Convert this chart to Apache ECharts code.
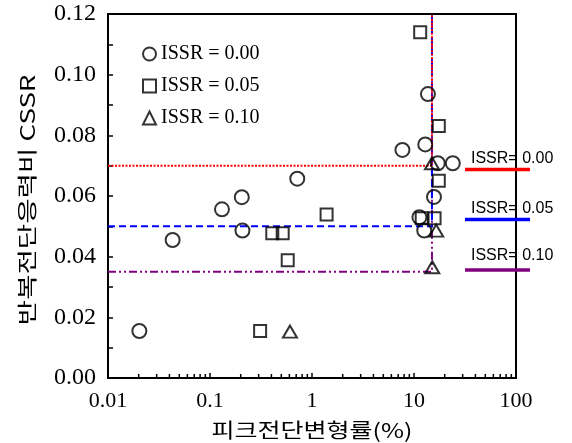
<!DOCTYPE html>
<html>
<head>
<meta charset="utf-8">
<script src="https://cdn.jsdelivr.net/npm/echarts@6/dist/echarts.min.js"></script>
<style>
    html, body { margin: 0; padding: 0; background: #fff; }
    #chart { width: 572px; height: 443px; }
</style>
</head>
<body>
<div id="chart"></div>
<script>
// 데이터
var seriesNames = ['ISSR = 0.00', 'ISSR = 0.05', 'ISSR = 0.10'];

var issr000X = [0.0203, 0.043, 0.131, 0.205, 0.208, 0.717, 7.7, 13.7, 12.9, 17.1, 24.0, 15.7, 11.3, 12.6];
var issr000Y = [0.0155, 0.0455, 0.0556, 0.0596, 0.0486, 0.0657, 0.0752, 0.0936, 0.077, 0.0708, 0.0708, 0.0597, 0.053, 0.0486];

var issr005X = [0.31, 0.408, 0.516, 0.578, 1.39, 11.9, 15.9, 17.5, 17.5, 11.5];
var issr005Y = [0.0155, 0.0477, 0.0477, 0.0388, 0.0539, 0.0527, 0.0527, 0.065, 0.0831, 0.114];

var issr010X = [0.608, 15.0, 16.5, 15.1];
var issr010Y = [0.0153, 0.0708, 0.0486, 0.0365];

// 기준선 (CSSR 한계값, 피크전단변형률 15%)
var limitStrain = 15;
var limitCssr = [0.07, 0.05, 0.035];

var xTickLabels = ['0.01', '0.1', '1', '10', '100'];
var yTickLabels = ['0.00', '0.02', '0.04', '0.06', '0.08', '0.10', '0.12'];

function pairs(xs, ys) {
    var out = [];
    for (var i = 0; i < xs.length; i++) {
        out.push([xs[i], ys[i]]);
    }
    return out;
}

// x축 보조눈금 (2~9 배수)
var minorTicks = [];
for (var d = -2; d < 2; d++) {
    for (var m = 2; m <= 9; m++) {
        minorTicks.push([m * Math.pow(10, d), 0]);
    }
}

var chart = echarts.init(document.getElementById('chart'));

var markerStyle = {
    color: 'rgba(0,0,0,0)',
    borderColor: '#000',
    borderWidth: 2
};

function limitLine(value, color, type) {
    return {
        type: 'line',
        data: [[0.01, value], [limitStrain, value], [limitStrain, 0.12]],
        symbol: 'none',
        silent: true,
        z: 1,
        lineStyle: { color: color, width: 2, type: type }
    };
}

var option = {
    animation: false,
    grid: {
        left: 108,
        top: 14,
        right: 56,
        bottom: 65,
        show: true,
        borderColor: '#000',
        borderWidth: 2
    },
    legend: {
        data: seriesNames,
        orient: 'vertical',
        left: 137,
        top: 39,
        itemWidth: 13,
        itemHeight: 13,
        itemGap: 12,
        textStyle: {
            fontFamily: 'Liberation Serif',
            fontSize: 20,
            color: '#000'
        },
        itemStyle: {
            color: 'rgba(0,0,0,0)',
            borderColor: '#000',
            borderWidth: 2
        }
    },
    xAxis: {
        type: 'log',
        logBase: 10,
        min: 0.01,
        max: 100,
        axisLine: { show: true, lineStyle: { color: '#000', width: 2 } },
        axisTick: { show: true, inside: true, length: 5, lineStyle: { color: '#000', width: 1.5 } },
        splitLine: { show: false },
        axisLabel: {
            color: '#000',
            fontFamily: 'Liberation Serif',
            fontSize: 22,
            margin: 12,
            formatter: function (v) {
                var k = Math.round(Math.log(v) / Math.LN10) + 2;
                return xTickLabels[k] || '';
            }
        }
    },
    yAxis: {
        type: 'value',
        min: 0,
        max: 0.12,
        interval: 0.02,
        axisLine: { show: true, lineStyle: { color: '#000', width: 2 } },
        axisTick: { show: true, inside: true, length: 5, lineStyle: { color: '#000', width: 1.5 } },
        minorTick: { show: true, splitNumber: 2, length: 5, lineStyle: { color: '#000', width: 1.5 } },
        splitLine: { show: false },
        axisLabel: {
            color: '#000',
            fontFamily: 'Liberation Serif',
            fontSize: 24,
            margin: 12,
            formatter: function (v) {
                return yTickLabels[Math.round(v / 0.02)];
            }
        }
    },
    graphic: [
        {
            type: 'text',
            x: 27,
            y: 200,
            rotation: Math.PI / 2,
            scaleX: 1.38,
            style: {
                text: '반복전단응력비 CSSR',
                font: '20px "Noto Sans CJK KR"',
                fill: '#000',
                textAlign: 'center',
                textVerticalAlign: 'middle'
            }
        },
        {
            type: 'text',
            x: 312,
            y: 430,
            scaleX: 1.25,
            style: {
                text: '피크전단변형률(%)',
                font: '20px "Noto Sans CJK KR"',
                fill: '#000',
                textAlign: 'center',
                textVerticalAlign: 'middle'
            }
        },
        { type: 'line', shape: { x1: 465, y1: 169.5, x2: 530, y2: 169.5 }, style: { stroke: '#ff0000', lineWidth: 3.5 } },
        { type: 'line', shape: { x1: 465, y1: 219.5, x2: 530, y2: 219.5 }, style: { stroke: '#0000ff', lineWidth: 3.5 } },
        { type: 'line', shape: { x1: 465, y1: 270, x2: 530, y2: 270 }, style: { stroke: '#800080', lineWidth: 3.5 } },
        { type: 'text', x: 471, y: 158.5, style: { text: 'ISSR= 0.00', font: '16px "Liberation Sans"', fill: '#000', textVerticalAlign: 'middle' } },
        { type: 'text', x: 471, y: 208.5, style: { text: 'ISSR= 0.05', font: '16px "Liberation Sans"', fill: '#000', textVerticalAlign: 'middle' } },
        { type: 'text', x: 471, y: 256, style: { text: 'ISSR= 0.10', font: '16px "Liberation Sans"', fill: '#000', textVerticalAlign: 'middle' } }
    ],
    series: [
        limitLine(limitCssr[2], '#800080', [8, 3, 2, 3, 2, 3]),
        limitLine(limitCssr[1], '#0000ff', [7, 4]),
        limitLine(limitCssr[0], '#ff0000', [2, 1.5]),
        {
            name: seriesNames[0],
            type: 'scatter',
            symbol: 'circle',
            symbolSize: 14,
            itemStyle: markerStyle,
            z: 3,
            data: pairs(issr000X, issr000Y)
        },
        {
            name: seriesNames[1],
            type: 'scatter',
            symbol: 'rect',
            symbolSize: 12,
            itemStyle: markerStyle,
            z: 3,
            data: pairs(issr005X, issr005Y)
        },
        {
            name: seriesNames[2],
            type: 'scatter',
            symbol: 'triangle',
            symbolSize: [14, 12],
            itemStyle: markerStyle,
            z: 3,
            data: pairs(issr010X, issr010Y)
        },
        {
            type: 'custom',
            silent: true,
            z: 4,
            clip: false,
            data: minorTicks,
            renderItem: function (params, api) {
                var p = api.coord([api.value(0), 0]);
                return {
                    type: 'line',
                    shape: { x1: p[0], y1: p[1], x2: p[0], y2: p[1] - 4 },
                    style: { stroke: '#000', lineWidth: 1.5 }
                };
            }
        }
    ]
};

chart.setOption(option);
window.onresize = chart.resize;
</script>
</body>
</html>
